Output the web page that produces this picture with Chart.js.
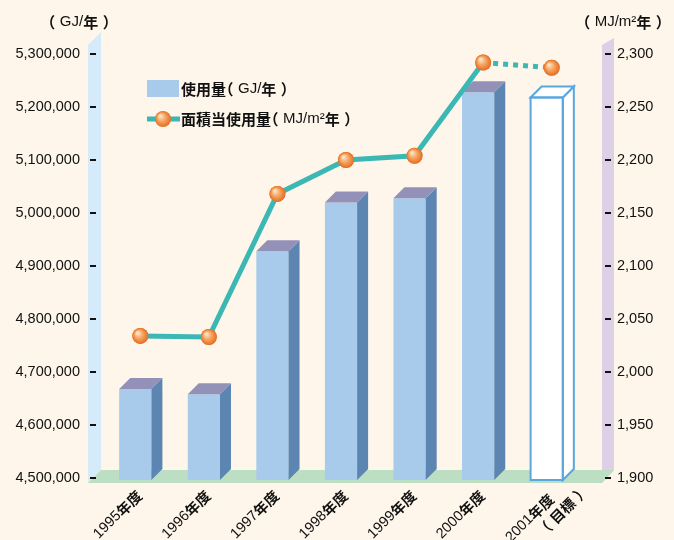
<!DOCTYPE html>
<html><head><meta charset="utf-8">
<script src="https://cdn.jsdelivr.net/npm/chart.js@4/dist/chart.umd.min.js"></script>
<style>html,body{margin:0;padding:0;background:#fef6ea;}#wrap{width:674px;height:540px;}</style>
</head><body><div id="wrap"><canvas id="c" width="674" height="540"></canvas></div>
<script>
// ---- data ----
const categories = ['1995年度','1996年度','1997年度','1998年度','1999年度','2000年度',['2001年度','（目標）']];
const usageGJ = [4668000, 4658000, 4928000, 5020000, 5028000, 5228000, 5218000];
const usagePerArea = [2034, 2033, 2168, 2200, 2204, 2292, 2287];
const leftTickValues = [4500000,4600000,4700000,4800000,4900000,5000000,5100000,5200000,5300000];
const rightTickValues = [1900,1950,2000,2050,2100,2150,2200,2250,2300];
const leftAxisTitle = '（GJ/年）';
const rightAxisTitle = '（MJ/m²年）';
const barLabel = '使用量（GJ/年）';
const lineLabel = '面積当使用量（MJ/m²年）';
const targetIndex = 6;

// ---- styles ----
const BG = '#fef6ea';
const LAT = '"Liberation Sans", Arial, sans-serif';
const CJK = '"Noto Sans CJK JP", "Noto Sans CJK SC", sans-serif';
const TEAL = '#3bb8b4';
const FRONT = '#a9cbeb', SIDE = '#5c85b2', TOP = '#9391b7';
const TARGET_STROKE = '#5aa7de';
const DEPTH = 11, SHIFT = -5;

function isCJK(ch){ return /[\u3000-\u9fff\uff00-\uffef]/.test(ch); }
function runs(text){
  const out=[]; for(const ch of text){ const c=isCJK(ch); if(out.length && out[out.length-1].c===c) out[out.length-1].t+=ch; else out.push({t:ch,c}); } return out;
}
function setFont(ctx, c, size){ ctx.font = c ? ('bold '+size+'px '+CJK) : (size+'px '+LAT); }
// per-character layout; fullwidth parens get their ink on the outer side with a gap inside
function layout(ctx, text, size){
  const items=[]; let w=0;
  for(const r of runs(text)){
    setFont(ctx,r.c,size);
    for(const ch of r.t){
      let dx=0, adv=ctx.measureText(ch).width;
      if(ch==='（'){ dx=-0.5*size; adv=0.8*size; }
      else if(ch==='）'){ dx=0.3*size; adv=0.8*size; }
      items.push({ch, c:r.c, x:w+dx}); w+=adv;
    }
  }
  return {items, w};
}
function drawMixed(ctx, text, x, y, size, align){
  const L = layout(ctx,text,size);
  const x0 = align==='right' ? x-L.w : align==='center' ? x-L.w/2 : x;
  ctx.textAlign='left'; ctx.textBaseline='middle';
  for(const it of L.items){ setFont(ctx,it.c,size); ctx.fillText(it.ch, x0+it.x, y); }
}
function orangeBall(ctx, x, y, r){
  const g = ctx.createRadialGradient(x-r*0.35, y-r*0.4, r*0.1, x, y, r);
  g.addColorStop(0,'#fde3c6'); g.addColorStop(0.45,'#f6a765'); g.addColorStop(1,'#e46c22');
  ctx.beginPath(); ctx.arc(x,y,r,0,Math.PI*2); ctx.fillStyle=g; ctx.fill();
}

const decor = {
  id:'decor',
  beforeDraw(chart){
    const {ctx, chartArea:a} = chart;
    ctx.save();
    ctx.fillStyle = BG; ctx.fillRect(0,0,chart.width,chart.height);
    // left wall
    ctx.fillStyle = '#d5ebf9';
    ctx.beginPath(); ctx.moveTo(a.left-18, a.top-9); ctx.lineTo(a.left-5, a.top-22); ctx.lineTo(a.left-5, a.bottom-8); ctx.lineTo(a.left-18, a.bottom+5); ctx.closePath(); ctx.fill();
    // right wall
    ctx.fillStyle = '#dccfe6';
    ctx.beginPath(); ctx.moveTo(a.right+16, a.top-9); ctx.lineTo(a.right+28, a.top-16); ctx.lineTo(a.right+28, a.bottom-8); ctx.lineTo(a.right+16, a.bottom+5); ctx.closePath(); ctx.fill();
    // floor
    ctx.fillStyle = '#bcdfc4';
    ctx.beginPath(); ctx.moveTo(a.left-18, a.bottom+5); ctx.lineTo(a.left-5, a.bottom-8); ctx.lineTo(a.right+28, a.bottom-8); ctx.lineTo(a.right+16, a.bottom+5); ctx.closePath(); ctx.fill();
    ctx.restore();
  },
  beforeDatasetDraw(chart, args){
    if(args.index===0){ chart.ctx.save(); chart.ctx.translate(SHIFT,0); }
  },
  afterDatasetDraw(chart, args){
    const ctx = chart.ctx;
    if(args.index===0){
      const b = chart.chartArea.bottom + 2;
      args.meta.data.forEach((bar,i)=>{
        const w = bar.width, x1 = bar.x-w/2, x2 = bar.x+w/2, y = bar.y;
        const tgt = i===targetIndex;
        ctx.fillStyle = tgt ? '#ffffff' : FRONT; ctx.fillRect(x1, chart.chartArea.bottom-1, w, 3);
        // side
        ctx.beginPath(); ctx.moveTo(x2,y); ctx.lineTo(x2+DEPTH,y-DEPTH); ctx.lineTo(x2+DEPTH,b-DEPTH); ctx.lineTo(x2,b); ctx.closePath();
        ctx.fillStyle = tgt ? '#ffffff' : SIDE; ctx.fill();
        if(tgt){ ctx.strokeStyle=TARGET_STROKE; ctx.lineWidth=2; ctx.stroke(); }
        // top
        ctx.beginPath(); ctx.moveTo(x1,y); ctx.lineTo(x1+DEPTH,y-DEPTH); ctx.lineTo(x2+DEPTH,y-DEPTH); ctx.lineTo(x2,y); ctx.closePath();
        ctx.fillStyle = tgt ? '#ffffff' : TOP; ctx.fill();
        if(tgt){ ctx.strokeStyle=TARGET_STROKE; ctx.lineWidth=2; ctx.stroke(); ctx.strokeRect(x1,y,w,b-y); }
      });
      ctx.restore();
    } else {
      args.meta.data.forEach(pt=>orangeBall(ctx, pt.x, pt.y, 8));
    }
  },
  afterDraw(chart){
    const {ctx, chartArea:a, scales} = chart;
    ctx.save();
    ctx.fillStyle = '#111'; ctx.strokeStyle = '#111'; ctx.lineWidth = 2;
    // tick marks
    leftTickValues.forEach(v=>{ const y=Math.round(scales.y.getPixelForValue(v)); ctx.beginPath(); ctx.moveTo(a.left-16,y); ctx.lineTo(a.left-10,y); ctx.stroke(); });
    rightTickValues.forEach(v=>{ const y=Math.round(scales.y2.getPixelForValue(v)); ctx.beginPath(); ctx.moveTo(a.right+19,y); ctx.lineTo(a.right+25,y); ctx.stroke(); });
    // axis titles
    drawMixed(ctx, leftAxisTitle, 79, 22, 15, 'center');
    drawMixed(ctx, rightAxisTitle, 623, 22, 15, 'center');
    // legend
    ctx.fillStyle = FRONT; ctx.fillRect(147,80,32,17);
    ctx.strokeStyle = TEAL; ctx.lineWidth = 5; ctx.beginPath(); ctx.moveTo(147,119); ctx.lineTo(180,119); ctx.stroke();
    orangeBall(ctx,163,119,8);
    ctx.fillStyle = '#111';
    drawMixed(ctx, barLabel, 181, 89, 15, 'left');
    drawMixed(ctx, lineLabel, 181, 119, 15, 'left');
    // x labels, rotated
    const u = [Math.SQRT1_2, -Math.SQRT1_2], v = [Math.SQRT1_2, Math.SQRT1_2];
    categories.forEach((lab,i)=>{
      const x = scales.x.getPixelForValue(i) - 1, y = a.bottom + 15;
      const lines = Array.isArray(lab) ? lab : [lab];
      lines.forEach((t,j)=>{
        let ax = x, ay = y;
        if(lines.length>1){
          const along = j===0 ? -2 : 22, perp = j===0 ? 3 : 21;
          ax += along*u[0] + perp*v[0]; ay += along*u[1] + perp*v[1];
        }
        ctx.save(); ctx.translate(ax, ay); ctx.rotate(-Math.PI/4);
        drawMixed(ctx, t, 0, 0, 14.5, 'right');
        ctx.restore();
      });
    });
    ctx.restore();
  }
};

const fmt = v => Number(v).toLocaleString('en-US');

new Chart(document.getElementById('c'), {
  data: {
    labels: categories,
    datasets: [
      { type:'bar', label: barLabel, data: usageGJ, yAxisID:'y', order:1,
        backgroundColor: usageGJ.map((_,i)=> i===targetIndex ? '#ffffff' : FRONT),
        borderWidth:0, categoryPercentage:1, barPercentage:0.47 },
      { type:'line', label: lineLabel, data: usagePerArea, yAxisID:'y2', order:0,
        borderColor: TEAL, borderWidth:5, tension:0, fill:false,
        pointRadius:8, pointBackgroundColor:'#f08a3c', pointBorderWidth:0,
        segment:{ borderDash: c => c.p1DataIndex===targetIndex ? [5,5] : undefined } }
    ]
  },
  options: {
    responsive:false, animation:false, devicePixelRatio:1,
    layout:{ padding:{ top:54, left:0, right:0, bottom:0 } },
    plugins:{ legend:{display:false}, tooltip:{enabled:false} },
    scales:{
      x:{ offset:true, grid:{display:false}, border:{display:false}, ticks:{display:false},
          afterFit: s => { s.height = 62; } },
      y:{ position:'left', min:4500000, max:5300000,
          afterBuildTicks: s => { s.ticks = leftTickValues.map(v=>({value:v})); },
          grid:{display:false}, border:{display:false},
          ticks:{ padding:18, color:'#111', font:{family:LAT, size:14.5}, callback: fmt },
          afterFit: s => { s.width = 106; } },
      y2:{ position:'right', min:1900, max:2300,
          afterBuildTicks: s => { s.ticks = rightTickValues.map(v=>({value:v})); },
          grid:{display:false}, border:{display:false},
          ticks:{ padding:23, color:'#111', font:{family:LAT, size:14.5}, callback: fmt },
          afterFit: s => { s.width = 88; } }
    }
  },
  plugins:[decor]
});
</script>
</body></html>
